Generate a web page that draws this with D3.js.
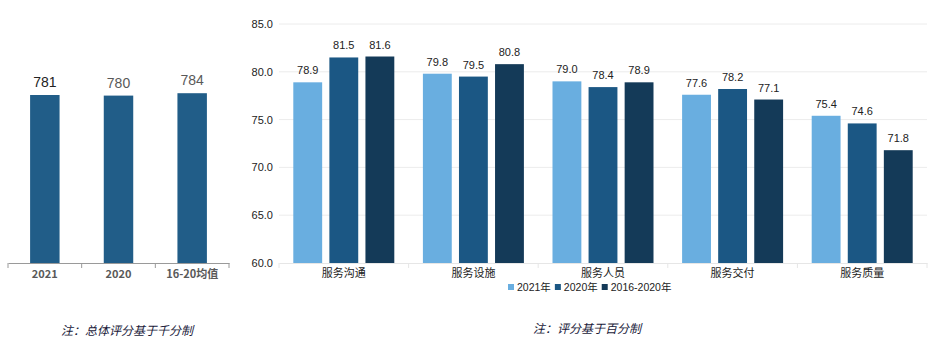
<!DOCTYPE html>
<html><head><meta charset="utf-8">
<script src="https://cdn.jsdelivr.net/npm/d3@7"></script>
<style>
body{margin:0;background:#fff;}
svg{display:block;font-family:"Liberation Sans","Noto Sans CJK SC",Arial,sans-serif;}
</style></head>
<body><svg id="c" width="938" height="346"></svg>
<script>
// Left chart data
const overallCats = ["2021","2020","16-20均值"];
const overallVals = [781,780,784];
const overallLabelColors = ["#222","#595959","#595959"];
// Right chart data
const dimCats = ["服务沟通","服务设施","服务人员","服务交付","服务质量"];
const seriesNames = ["2021年","2020年","2016-2020年"];
const s2021 = [78.9,79.8,79.0,77.6,75.4];
const s2020 = [81.5,79.5,78.4,78.2,74.6];
const s1620 = [81.6,80.8,78.9,77.1,71.8];
const yTicks = [60,65,70,75,80,85];
const notes = ["注：总体评分基于千分制","注：评分基于百分制"];

const colors = ["#69aee0","#1b5784","#143a58"];
const svg = d3.select("#c");
const cjk = '"Noto Sans CJK SC","Liberation Sans",sans-serif';
const latin = '"Liberation Sans","Noto Sans CJK SC",sans-serif';

// ---- Left chart ----
const lx = d3.scaleBand().domain(overallCats).range([8,229]).paddingInner(0.6).paddingOuter(0.3);
const ly = d3.scaleLinear().domain([500,900]).range([263,263-168/281*400]);
const lg = svg.append("g");
lg.selectAll("rect").data(overallVals).join("rect")
  .attr("x",(d,i)=>lx(overallCats[i])).attr("width",lx.bandwidth())
  .attr("y",d=>ly(d)).attr("height",d=>263-ly(d)).attr("fill","#215d88");
lg.selectAll("text.v").data(overallVals).join("text").attr("class","v")
  .attr("x",(d,i)=>lx(overallCats[i])+lx.bandwidth()/2).attr("y",d=>ly(d)-8)
  .attr("text-anchor","middle").attr("font-size",14).attr("fill",(d,i)=>overallLabelColors[i]).text(d=>d);
const lax = d3.axisBottom(lx).tickSize(0).tickPadding(0);
const lgAx = lg.append("g").attr("transform","translate(0,263)").call(lax);
lgAx.select(".domain").attr("stroke","#9a9a9a");
lgAx.selectAll(".tick text").attr("dy",null).attr("y",15).attr("font-size",11).attr("font-weight","bold").attr("fill","#595959").attr("font-family",cjk);
lgAx.selectAll("line.tk").data(d3.range(4)).join("line").attr("class","tk")
  .attr("x1",i=>8+i*(229-8)/3).attr("x2",i=>8+i*(229-8)/3).attr("y1",0).attr("y2",5).attr("stroke","#9a9a9a");

// ---- Right chart ----
const x0 = d3.scaleBand().domain(dimCats).range([279,927]);
const x1 = d3.scaleBand().domain(seriesNames).range([0,101]).paddingInner(0.2);
const y = d3.scaleLinear().domain([60,85]).range([263,24]);
const rg = svg.append("g");
rg.append("g").selectAll("line").data(yTicks.slice(1)).join("line")
  .attr("x1",279).attr("x2",927).attr("y1",d=>y(d)).attr("y2",d=>y(d)).attr("stroke","#ececec");
const yax = d3.axisLeft(y).tickValues(yTicks).tickFormat(d3.format(".1f")).tickSize(0).tickPadding(6);
const yg = rg.append("g").attr("transform","translate(279,0)").call(yax);
yg.select(".domain").remove();
yg.selectAll(".tick text").attr("font-size",11).attr("fill","#222");
const series = [s2021,s2020,s1620];
const off = (x0.bandwidth()-101)/2;
series.forEach((s,si)=>{
  const g = rg.append("g");
  g.selectAll("rect").data(s).join("rect")
    .attr("x",(d,i)=>x0(dimCats[i])+off+x1(seriesNames[si])).attr("width",x1.bandwidth())
    .attr("y",d=>y(d)).attr("height",d=>263-y(d)).attr("fill",colors[si]);
  g.selectAll("text").data(s).join("text")
    .attr("x",(d,i)=>x0(dimCats[i])+off+x1(seriesNames[si])+x1.bandwidth()/2).attr("y",d=>y(d)-8)
    .attr("text-anchor","middle").attr("font-size",11).attr("fill","#222").text(d=>d.toFixed(1));
});
const xax = d3.axisBottom(x0).tickSize(0).tickPadding(0);
const xg = rg.append("g").attr("transform","translate(0,263)").call(xax);
xg.select(".domain").attr("stroke","#e6e6e6");
xg.selectAll(".tick text").attr("dy",null).attr("y",14).attr("font-size",11).attr("fill","#222").attr("font-family",cjk);
xg.selectAll("line.tk").data(d3.range(6)).join("line").attr("class","tk")
  .attr("x1",i=>279+i*x0.step()).attr("x2",i=>279+i*x0.step()).attr("y1",0).attr("y2",5).attr("stroke","#e6e6e6");

// Legend (laid out by measured widths, centred)
const leg = svg.append("g");
let lxPos = 0;
seriesNames.forEach((n,i)=>{
  leg.append("rect").attr("x",lxPos).attr("y",284).attr("width",6).attr("height",6).attr("fill",colors[i]);
  const t = leg.append("text").attr("x",lxPos+9).attr("y",291).attr("font-size",10.5).attr("fill","#222").attr("font-family",latin).text(n);
  lxPos += 9 + t.node().getComputedTextLength() + (i<seriesNames.length-1?4:0);
});
leg.attr("transform",`translate(${Math.round(590 - lxPos/2)},0)`);

// Notes
svg.append("text").attr("x",61).attr("y",335).attr("font-size",12).attr("font-style","italic").attr("fill","#1a1a3a").attr("font-family",cjk).text(notes[0]);
svg.append("text").attr("x",533).attr("y",333).attr("font-size",12).attr("font-style","italic").attr("fill","#1a1a3a").attr("font-family",cjk).text(notes[1]);
</script></body></html>
